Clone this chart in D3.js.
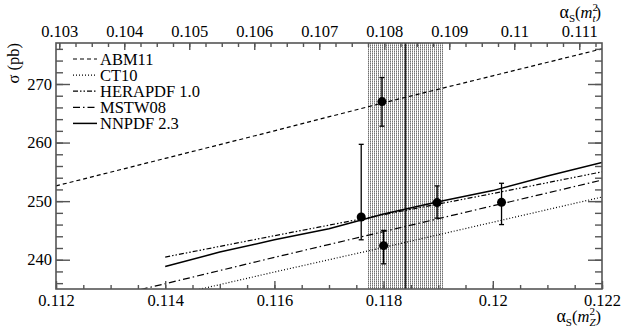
<!DOCTYPE html>
<html>
<head>
<meta charset="utf-8">
<script src="https://cdn.jsdelivr.net/npm/d3@7"></script>
<style>
  body { margin: 0; background: #fff; }
  text { font-family: "Liberation Serif", "Times New Roman", serif; fill: #000; }
</style>
</head>
<body>
<div id="chart-area"></div>
<script>
// Data
var pdfNames = ["ABM11", "CT10", "HERAPDF 1.0", "MSTW08", "NNPDF 2.3"];
var curveAlphas = [0.112, 0.114, 0.116, 0.118, 0.120, 0.122];
var abm11 = [252.6, 257.3, 262.0, 266.8, 271.4, 276.0];
var ct10 = [229.3, 233.6, 237.9, 242.1, 246.4, 250.7];
var herapdf = [null, 240.45, 244.1, 247.7, 251.3, 255.0];
var mstw08 = [231.5, 235.9, 240.4, 244.8, 249.2, 253.6];
var nnpdfAlphas = [0.114, 0.115, 0.116, 0.117, 0.118, 0.119, 0.120, 0.121, 0.122];
var nnpdf = [238.85, 241.3, 243.4, 245.3, 247.8, 249.9, 251.8, 254.3, 256.6];

// extracted points: alpha, sigma, +err, -err
var ptAlpha = [0.11759, 0.1180, 0.11797, 0.11898, 0.12016];
var ptSigma = [247.3, 242.4, 267.0, 249.75, 249.8];
var ptUp = [12.4, 2.6, 4.1, 2.85, 3.25];
var ptDown = [3.9, 3.1, 4.2, 2.65, 3.8];

// world average band
var bandLow = 0.1177, bandHigh = 0.1191, bandCentre = 0.1184;

var xTicks = [0.112, 0.114, 0.116, 0.118, 0.12, 0.122];
var yTicks = [240, 250, 260, 270];
var topTicks = [0.103, 0.104, 0.105, 0.106, 0.107, 0.108, 0.109, 0.11, 0.111];

var margin = { left: 56, right: 21, top: 43, bottom: 44 },
  width = 623 - margin.left - margin.right,
  height = 333 - margin.top - margin.bottom;

var svg = d3
  .select("#chart-area")
  .append("svg")
  .attr("width", 623)
  .attr("height", 333);

var defs = svg.append("defs");
defs.append("clipPath")
  .attr("id", "clip")
  .append("rect")
  .attr("width", width)
  .attr("height", height);

// stipple for the band
var pat = defs.append("pattern")
  .attr("id", "stipple")
  .attr("patternUnits", "userSpaceOnUse")
  .attr("width", 2)
  .attr("height", 2);
pat.append("rect").attr("width", 2).attr("height", 2).attr("fill", "#fff");
pat.append("rect").attr("x", 0).attr("y", 0).attr("width", 1).attr("height", 1).attr("fill", "#707070");
pat.append("rect").attr("x", 0).attr("y", 1).attr("width", 1).attr("height", 1).attr("fill", "#b0b0b0");

var g = svg
  .append("g")
  .attr("transform", "translate(" + margin.left + ", " + margin.top + ")");

// Scales
var x = d3.scaleLinear().domain([0.112, 0.122]).range([0, width]);
var xTop = d3.scaleLinear().domain([0.10295, 0.11135]).range([0, width]);
var y = d3.scaleLinear().domain([235, 277]).range([height, 0]);

// Band
g.append("rect")
  .attr("x", x(bandLow))
  .attr("y", 0)
  .attr("width", x(bandHigh) - x(bandLow))
  .attr("height", height)
  .attr("fill", "url(#stipple)");
g.append("line")
  .attr("x1", x(bandCentre))
  .attr("x2", x(bandCentre))
  .attr("y1", 0)
  .attr("y2", height)
  .attr("stroke", "#222")
  .attr("stroke-width", 1.3);

// Curves
var dashes = ["4,3", "1,2", "5,2,1.5,2,1.5,2", "7,3,1.5,3", null];
var curves = [
  curveAlphas.map(function(a, i) { return [a, abm11[i]]; }),
  curveAlphas.map(function(a, i) { return [a, ct10[i]]; }),
  curveAlphas.map(function(a, i) { return [a, herapdf[i]]; }).filter(function(d) { return d[1] != null; }),
  curveAlphas.map(function(a, i) { return [a, mstw08[i]]; }),
  nnpdfAlphas.map(function(a, i) { return [a, nnpdf[i]]; })
];

var line = d3
  .line()
  .x(function(d) { return x(d[0]); })
  .y(function(d) { return y(d[1]); });

var plot = g.append("g").attr("clip-path", "url(#clip)");
curves.forEach(function(c, i) {
  plot.append("path")
    .attr("d", line(c))
    .attr("fill", "none")
    .attr("stroke", "#000")
    .attr("stroke-width", i == 4 ? 1.5 : 1.2)
    .attr("stroke-dasharray", dashes[i]);
});

// Error bars and points
ptAlpha.forEach(function(a, i) {
  var px = x(a);
  var yt = y(ptSigma[i] + ptUp[i]), yb = y(ptSigma[i] - ptDown[i]);
  plot.append("line").attr("x1", px).attr("x2", px).attr("y1", yt).attr("y2", yb)
    .attr("stroke", "#000").attr("stroke-width", 1.3);
  [yt, yb].forEach(function(yy) {
    plot.append("line").attr("x1", px - 2.5).attr("x2", px + 2.5).attr("y1", yy).attr("y2", yy)
      .attr("stroke", "#000").attr("stroke-width", 1.3);
  });
  plot.append("circle").attr("cx", px).attr("cy", y(ptSigma[i])).attr("r", 4.5).attr("fill", "#000");
});

// Axes
function styleAxis(sel) {
  sel.attr("font-family", null);
  sel.select(".domain").remove();
  sel.selectAll(".tick line").attr("stroke", "#555").attr("stroke-width", 1.4);
  sel.selectAll(".tick text").attr("font-size", "16.5px").attr("fill", "#000");
}

var minorX = d3.range(0.112, 0.12201, 0.0005);
var minorTop = d3.range(0.103, 0.11135, 0.00025);
var minorY = d3.range(236, 277, 2);

g.append("g").attr("transform", "translate(0," + height + ")")
  .call(d3.axisBottom(x).tickValues(minorX).tickSize(-4).tickFormat("")).call(styleAxis);
g.append("g").attr("transform", "translate(0," + height + ")")
  .call(d3.axisBottom(x).tickValues(xTicks).tickSize(-8).tickPadding(5).tickFormat(d3.format("~g"))).call(styleAxis);

g.append("g")
  .call(d3.axisTop(xTop).tickValues(minorTop).tickSize(-4).tickFormat("")).call(styleAxis);
g.append("g")
  .call(d3.axisTop(xTop).tickValues(topTicks).tickSize(-7).tickPadding(6).tickFormat(d3.format("~g"))).call(styleAxis);

g.append("g")
  .call(d3.axisLeft(y).tickValues(minorY).tickSize(-7).tickFormat("")).call(styleAxis);
g.append("g")
  .call(d3.axisLeft(y).tickValues(yTicks).tickSize(-14).tickPadding(4)).call(styleAxis);

g.append("g").attr("transform", "translate(" + width + ",0)")
  .call(d3.axisRight(y).tickValues(minorY).tickSize(-7).tickFormat("")).call(styleAxis);
g.append("g").attr("transform", "translate(" + width + ",0)")
  .call(d3.axisRight(y).tickValues(yTicks).tickSize(-14).tickFormat("")).call(styleAxis);

// Frame
g.append("rect")
  .attr("width", width)
  .attr("height", height)
  .attr("fill", "none")
  .attr("stroke", "#555")
  .attr("stroke-width", 1.6);

// Legend
var legend = g.append("g").attr("transform", "translate(17,16)");
pdfNames.forEach(function(name, i) {
  var row = legend.append("g").attr("transform", "translate(0," + i * 16.1 + ")");
  row.append("line")
    .attr("x1", 0).attr("x2", 24).attr("y1", 0).attr("y2", 0)
    .attr("stroke", "#000")
    .attr("stroke-width", i == 4 ? 1.5 : 1.2)
    .attr("stroke-dasharray", dashes[i]);
  row.append("text")
    .attr("x", 27)
    .attr("y", 0)
    .attr("dy", "0.35em")
    .attr("font-size", "16.5px")
    .text(name);
});

// Axis titles
svg.append("text")
  .attr("transform", "rotate(-90)")
  .attr("x", -margin.top)
  .attr("y", 19)
  .attr("text-anchor", "end")
  .attr("font-size", "16.5px")
  .text("σ (pb)");

function alphaTitle(sel, sub) {
  sel.append("tspan").attr("font-size", "18px").text("α");
  sel.append("tspan").attr("font-size", "11px").attr("dy", 4).text("S");
  sel.append("tspan").attr("dy", -4).text("(");
  sel.append("tspan").attr("font-style", "italic").text("m");
  sel.append("tspan").attr("font-size", "11px").attr("dy", -7).text("2");
  sel.append("tspan").attr("font-size", "11px").attr("font-style", "italic").attr("dx", -5.5).attr("dy", 11).text(sub);
  sel.append("tspan").attr("dy", -4).text(")");
}

svg.append("text")
  .attr("x", 601)
  .attr("y", 322)
  .attr("text-anchor", "end")
  .attr("font-size", "16.5px")
  .call(alphaTitle, "Z");

svg.append("text")
  .attr("x", 601)
  .attr("y", 18)
  .attr("text-anchor", "end")
  .attr("font-size", "16.5px")
  .call(alphaTitle, "t");
</script>
</body>
</html>
